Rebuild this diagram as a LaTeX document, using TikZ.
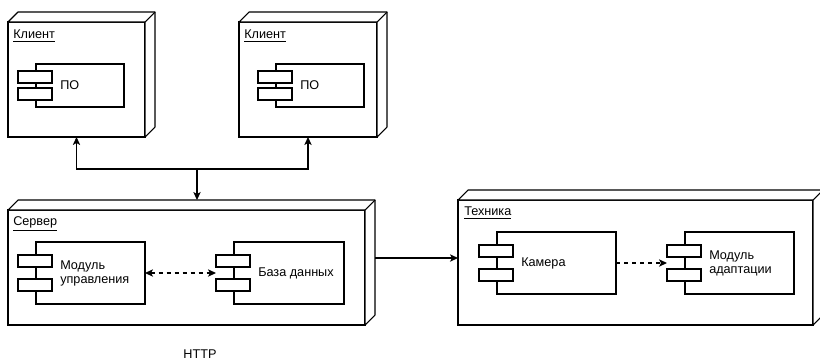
\documentclass[tikz,border=0pt]{standalone}
\usepackage{fontspec}
\setmainfont{Liberation Sans}
\usetikzlibrary{calc,arrows.meta}
\tikzset{
  x=0.75pt, y=-0.75pt,
  ln/.style={draw=black, line width=0.8pt},
  front/.style={ln, fill=white, inner sep=0pt, outer sep=0pt},
  lbl/.style={inner sep=0pt, anchor=west, font=\fontsize{9.5}{10.5}\selectfont},
  txt/.style={inner sep=0pt, anchor=west, align=left, font=\fontsize{9.5}{10.5}\selectfont},
  arr/.style={ln, -{Stealth[length=6pt,width=5.5pt,inset=1.5pt]}},
  darr/.style={ln, dash pattern=on 3pt off 3pt, -{Stealth[length=6pt,width=5.5pt,inset=1.5pt]}},
  ddarr/.style={ln, dash pattern=on 3pt off 3pt, {Stealth[length=6pt,width=5.5pt,inset=1.5pt]}-{Stealth[length=6pt,width=5.5pt,inset=1.5pt]}},
}
% 3D node: name, x1, y1, x2, y2 of the front face
\newcommand\mynodebox[5]{%
  \node[front, minimum width={(#4-#2)*0.75pt}, minimum height={(#5-#3)*0.75pt}, anchor=north west] (#1) at (#2,#3) {};
  \draw[ln, fill=white, line join=round] (#1.north west) -- ++(10,-10) -- ($(#1.north east)+(10,-10)$) -- ($(#1.south east)+(10,-10)$) -- (#1.south east) -- (#1.north east) -- cycle;
  \draw[ln] (#1.north east) -- ++(10,-10);
}
% component: name, x1, y1, x2, y2 of main box, tab offsets, text
\newcommand\mycomp[8]{%
  \node[front, minimum width={(#4-#2)*0.75pt}, minimum height={(#5-#3)*0.75pt}, anchor=north west] (#1) at (#2,#3) {};
  \node[front, minimum width={34*0.75pt}, minimum height={12*0.75pt}, anchor=north west] (#1-t1) at ($(#1.north west)+(-18,#6)$) {};
  \node[front, minimum width={34*0.75pt}, minimum height={12*0.75pt}, anchor=north west] (#1-t2) at ($(#1.north west)+(-18,#7)$) {};
  \node[txt] (#1-x) at ($(#1.west)+(24,0)$) {#8};
}
\begin{document}
\begin{tikzpicture}
\useasboundingbox (0,0) rectangle (820,361);
% clients
\mynodebox{c1}{8}{22}{145}{137}
\node[lbl] (c1-l) at (13,36) {\underline{Клиент}};
\mycomp{p1}{36}{64}{124}{107}{7}{24}{ПО}
\mynodebox{c2}{239}{22}{377}{137}
\node[lbl] (c2-l) at (244,36) {\underline{Клиент}};
\mycomp{p2}{276}{64}{364}{107}{7}{24}{ПО}
% server
\mynodebox{s}{8}{210}{365}{325}
\node[lbl] (s-l) at (13,224) {\underline{Сервер}};
\mycomp{m}{36}{242}{145}{304}{13}{37}{Модуль\\управления}
\mycomp{db}{234}{242}{344}{304}{13}{37}{База данных}
% tech
\mynodebox{t}{458}{200}{813}{325}
\node[lbl] (t-l) at (464,213) {\underline{Техника}};
\mycomp{cam}{497}{232}{616}{294}{13}{37}{Камера}
\mycomp{ad}{685}{232}{794}{294}{13}{37}{Модуль\\адаптации}
% connectors
\coordinate (j) at (197,169);
\coordinate (stop) at ($(s.north)+(0,-10)$);
\draw[arr] (j) -| (c1.south);
\draw[arr] (j) -| (c2.south);
\draw[arr] (j) -- (j |- stop);
\coordinate (tin) at (t.west |- 0,258);
\draw[arr] ($(s.east |- tin)+(10,0)$) -- (tin);
\draw[ddarr] (m.east) -- (db-t1.west |- m.east);
\draw[darr] (cam.east) -- (ad-t1.west |- cam.east);
\node[inner sep=0pt, font=\fontsize{9.5}{10.5}\selectfont] (http) at (200,354.5) {HTTP};
\end{tikzpicture}
\end{document}
